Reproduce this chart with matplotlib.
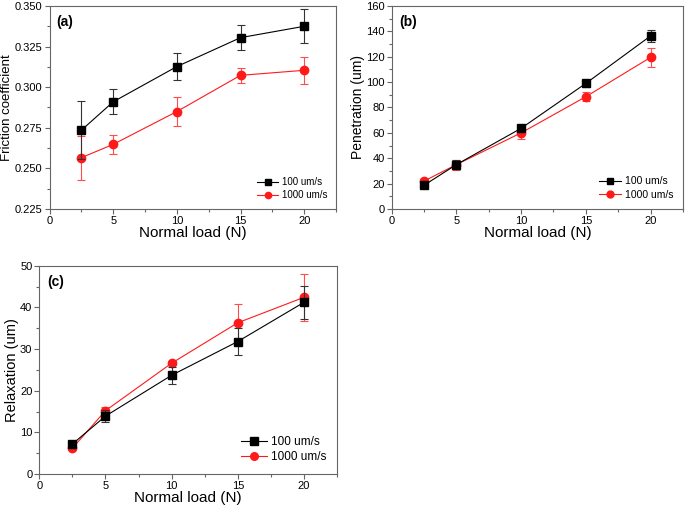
import matplotlib
matplotlib.use("Agg")
import matplotlib.pyplot as plt
from matplotlib.ticker import MultipleLocator
from matplotlib.lines import Line2D

plt.rcParams['font.family'] = ['Liberation Sans', 'DejaVu Sans']

loads = [2.5, 5, 10, 15, 20]
series_labels = ["100 um/s", "1000 um/s"]

fric_100 = [0.2735, 0.291, 0.3127, 0.3305, 0.3375]
fric_100_err = [0.018, 0.0078, 0.0085, 0.0077, 0.0105]
fric_1000 = [0.2566, 0.2648, 0.285, 0.3073, 0.3104]
fric_1000_err = [0.0135, 0.006, 0.0087, 0.0047, 0.0084]

pen_100 = [18.7, 35.0, 63.6, 99.0, 136.4]
pen_100_err = [2.0, 3.5, 1.5, 3.0, 4.5]
pen_1000 = [22.0, 35.0, 60.0, 88.5, 119.5]
pen_1000_err = [2.0, 4.0, 5.0, 3.5, 7.5]

rel_100 = [7.2, 13.9, 23.7, 31.8, 41.2]
rel_100_err = [0.8, 1.5, 2.1, 3.3, 3.9]
rel_1000 = [6.2, 15.2, 26.6, 36.3, 42.4]
rel_1000_err = [0.5, 0.8, 0.5, 4.5, 5.6]

fig = plt.figure(figsize=(6.85, 5.08), dpi=100)
ax_a = fig.add_axes([0.0723, 0.5886, 0.4182, 0.3996])
ax_b = fig.add_axes([0.5718, 0.5886, 0.4252, 0.3996])
ax_c = fig.add_axes([0.0574, 0.0669, 0.4346, 0.4101])

spine_col = '#666666'
red = '#ff1a1a'

def draw(ax, y1, e1, y2, e2, ylim, ymaj, ymin, ylabel, tag, legfs, ylabfs, yfmt=None, ms_leg=5):
    ax.errorbar(loads, y1, yerr=e1, color='black', lw=0.8, marker='s', ms=6,
                capsize=3, elinewidth=0.8, capthick=0.8, ecolor='#333333', zorder=3)
    ax.errorbar(loads, y2, yerr=e2, color=red, lw=0.8, marker='o', ms=6,
                capsize=3, elinewidth=0.8, capthick=0.8, ecolor='#ff4d4d', zorder=2)
    ax.set_xlim(0, 22.5)
    ax.set_ylim(*ylim)
    ax.xaxis.set_major_locator(MultipleLocator(5))
    ax.xaxis.set_minor_locator(MultipleLocator(2.5))
    ax.yaxis.set_major_locator(MultipleLocator(ymaj))
    ax.yaxis.set_minor_locator(MultipleLocator(ymin))
    if yfmt:
        ax.yaxis.set_major_formatter(yfmt)
    for s in ax.spines.values():
        s.set_color(spine_col)
        s.set_linewidth(0.8)
    ax.tick_params(which='both', direction='out', color=spine_col, labelsize=8, width=0.8, pad=1.5)
    ax.tick_params(which='major', length=3.5)
    ax.tick_params(which='minor', length=2)
    ax.set_ylabel(ylabel, fontsize=ylabfs, labelpad=1)
    ax.set_xlabel('Normal load (N)', fontsize=11, labelpad=0)
    ax.text(0.025, 0.955, tag, transform=ax.transAxes, fontsize=10, fontweight='bold',
            va='top', ha='left')
    handles = [
        Line2D([], [], color='black', lw=0.8, marker='s', ms=ms_leg),
        Line2D([], [], color=red, lw=0.8, marker='o', ms=ms_leg),
    ]
    ax.legend(handles, series_labels, loc='lower right', fontsize=legfs, frameon=False,
              handlelength=2.2, handletextpad=0.35, labelspacing=0.3, borderaxespad=0.5)

draw(ax_a, fric_100, fric_100_err, fric_1000, fric_1000_err, (0.225, 0.35), 0.025, 0.0125,
     'Friction coefficient', '(a)', 7, 9.5, yfmt='{x:.3f}', ms_leg=4.5)
draw(ax_b, pen_100, pen_100_err, pen_1000, pen_1000_err, (0, 160), 20, 10,
     'Penetration (um)', '(b)', 7.5, 10, ms_leg=5)
draw(ax_c, rel_100, rel_100_err, rel_1000, rel_1000_err, (0, 50), 10, 5,
     'Relaxation (um)', '(c)', 8.5, 10.5, ms_leg=5.5)

fig.savefig('out.png', dpi=100)
